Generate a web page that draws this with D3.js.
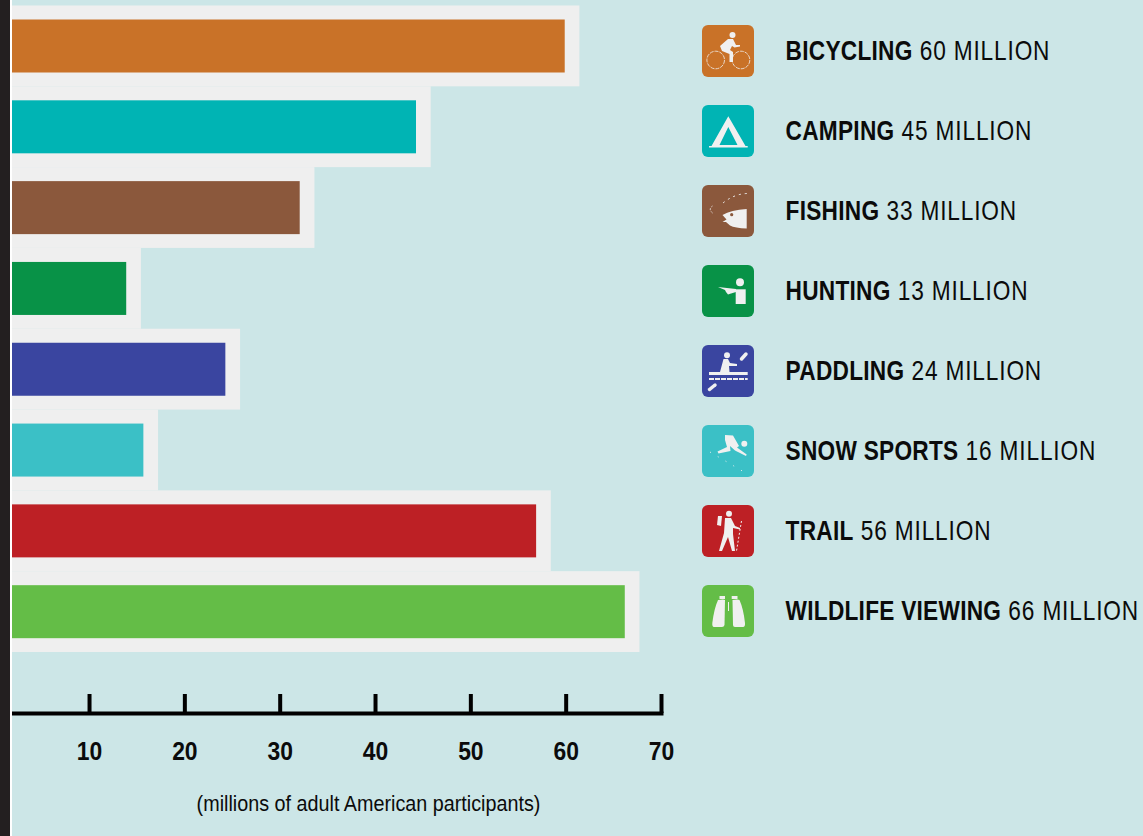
<!DOCTYPE html>
<html>
<head>
<meta charset="utf-8">
<script src="https://cdnjs.cloudflare.com/ajax/libs/d3/7.8.5/d3.min.js"></script>
<style>
html,body{margin:0;padding:0;background:#cce6e7;overflow:hidden;}
svg{display:block;}
text{font-family:"Liberation Sans",sans-serif;fill:#0b0b0b;}
.axis text{font-weight:700;font-size:26px;}
.axis path,.axis line{stroke:#000;stroke-width:4px;}
</style>
</head>
<body>
<div id="canvas"></div>
<script>
var W = 1143, H = 836;

// bar ends, legend numbers as printed
var categories = ['BICYCLING','CAMPING','FISHING','HUNTING','PADDLING','SNOW SPORTS','TRAIL','WILDLIFE VIEWING'];
var barValues = [59.9,44.3,32.1,13.9,24.3,15.7,56.9,66.2];
var labelValues = [60,45,33,13,24,16,56,66];
var colors = ['#c97228','#00b4b4','#8b583c','#089247','#3a45a0','#3bc0c6','#bd2025','#64bd47'];
var axisTicks = [10,20,30,40,50,60,70];
var axisTitle = '(millions of adult American participants)';

var svg = d3.select('#canvas').append('svg')
    .attr('width',W).attr('height',H);

svg.append('rect').attr('width',W).attr('height',H).attr('fill','#cce6e7');

var x = d3.scaleLinear().domain([0,70]).range([-6.3,661]);
var band = d3.scaleBand().domain(categories).range([5.5,652]);
var legendY = d3.scalePoint().domain(categories).range([25,585]);

var rows = categories.map(function(c,i){
    return {name:c, value:barValues[i], label:labelValues[i], color:colors[i]};
});

//halo behind each bar
svg.selectAll('.halo').data(rows).enter().append('rect')
    .attr('class','halo')
    .attr('x',x(0))
    .attr('y',function(d){return band(d.name);})
    .attr('width',function(d){return x(d.value)-x(0)+14.7;})
    .attr('height',band.bandwidth())
    .attr('fill','#efefef');

svg.selectAll('.bar').data(rows).enter().append('rect')
    .attr('class','bar')
    .attr('x',x(0))
    .attr('y',function(d){return band(d.name)+14;})
    .attr('width',function(d){return x(d.value)-x(0);})
    .attr('height',53)
    .attr('fill',function(d){return d.color;});

//axis
var axis = d3.axisBottom(x).tickValues(axisTicks).tickSize(-19).tickSizeOuter(0).tickPadding(28);
var axisG = svg.append('g').attr('class','axis')
    .attr('transform','translate(0,713)')
    .call(axis);
axisG.select('.domain').attr('stroke-linecap','square');
axisG.selectAll('text').attr('fill','#0b0b0b').attr('dy','0.72em')
    .attr('transform','scale(0.88,1)');

svg.append('text')
    .attr('transform','translate(368.5,811) scale(0.92,1)')
    .attr('text-anchor','middle')
    .style('font-size','21.5px')
    .text(axisTitle);

//left edge of the page
svg.append('rect').attr('x',0).attr('y',0).attr('width',12).attr('height',H).attr('fill','#fff');
svg.append('rect').attr('x',0).attr('y',0).attr('width',10).attr('height',H).attr('fill','#231f20');

//legend icons, drawn in a 52 box
var W_ = '#f0f0f0';
function dashedLine(g,d,w,dash){
    g.append('path').attr('d',d).attr('fill','none').attr('stroke',W_)
        .attr('stroke-width',w).attr('stroke-dasharray',dash);
}
var icons = {
    'BICYCLING':function(g){
        g.append('circle').attr('cx',30.5).attr('cy',10).attr('r',3).attr('fill',W_);
        g.append('path').attr('fill',W_).attr('d','M26,14 L31,14 L34,20 L38,20 L38,21.5 L32.5,22.5 L30,21 L28,25 L31,27 L31,37 L27.5,37 L27.5,29 L20,26 L18,21 Z');
        [[13.7,35],[39,35]].forEach(function(c){
            g.append('circle').attr('cx',c[0]).attr('cy',c[1]).attr('r',8.8)
                .attr('fill','none').attr('stroke',W_).attr('stroke-width',0.8).attr('stroke-dasharray','4 1');
        });
    },
    'CAMPING':function(g){
        g.append('path').attr('fill',W_).attr('fill-rule','evenodd').attr('d','M26.3,11.3 L43.5,41 L9.5,41 Z M26.3,22 L17.5,40 L35.5,40 Z');
        g.append('rect').attr('x',7).attr('y',41).attr('width',38.7).attr('height',1.5).attr('fill',W_);
    },
    'FISHING':function(g){
        g.append('path').attr('fill',W_).attr('d','M20.5,30 Q29,25 44.7,24 L44.7,43.5 Q33,43 28,40.5 L24,37 L20.5,37 L24.5,34.5 Z');
        g.append('circle').attr('cx',29.7).attr('cy',29.7).attr('r',1.6).attr('fill',colors[2]);
        dashedLine(g,'M10.5,28 Q6,24 10.5,21',0.8,'2 1.5');
        dashedLine(g,'M21,18 Q32,9 45,8.5',1,'2 4');
    },
    'HUNTING':function(g){
        g.append('circle').attr('cx',38).attr('cy',17.3).attr('r',4).attr('fill',W_);
        g.append('rect').attr('x',33.7).attr('y',24.3).attr('width',10).attr('height',14.7).attr('fill',W_);
        g.append('path').attr('fill',W_).attr('d','M16,22 L34,24 L34,27 L29,28.5 L26,29.5 L24,27 L23,25 Z');
    },
    'PADDLING':function(g){
        g.append('circle').attr('cx',25).attr('cy',10.3).attr('r',3).attr('fill',W_);
        g.append('path').attr('fill',W_).attr('d','M21.5,14 L26,14 L28,18 L35,19 L35,21 L27,21 L27.5,27 L18,27 Z');
        g.append('rect').attr('x',7).attr('y',27).attr('width',38.7).attr('height',3).attr('fill',W_);
        dashedLine(g,'M7,34 L45.7,34',2,'5 1');
        g.append('path').attr('d','M39.5,14 L44,9').attr('stroke',W_).attr('stroke-width',3.5).attr('stroke-linecap','round');
        g.append('path').attr('d','M7.5,44.5 L13,40').attr('stroke',W_).attr('stroke-width',3.5).attr('stroke-linecap','round');
    },
    'SNOW SPORTS':function(g){
        g.append('circle').attr('cx',42.3).attr('cy',18.7).attr('r',3).attr('fill',W_);
        g.append('path').attr('fill',W_).attr('d','M23,10 L31,10.5 L37,21 L35,22.5 L44.7,29.5 L44,31 L33,25.5 L28,21 L28.5,26 L16.5,28.5 L15.5,26.5 L25,22 L23,15 Z');
        dashedLine(g,'M8,27 L20,34 L42,47',1,'1 8');
    },
    'TRAIL':function(g){
        g.append('circle').attr('cx',27).attr('cy',8.7).attr('r',3).attr('fill',W_);
        g.append('path').attr('fill',W_).attr('d','M16,11 L20,11 L19,21 L15,20 Z');
        g.append('path').attr('fill',W_).attr('d','M23,13 L29,13 L33,21 L38,23 L38,24.5 L31,23 L31,29 L33,46 L30,46 L26,32 L20,46 L17,46 L22,28 Z');
        dashedLine(g,'M39.5,16 L34.5,46',1,'2 2');
    },
    'WILDLIFE VIEWING':function(g){
        g.append('path').attr('fill',W_).attr('d','M17.5,11 L23,11 L23,14 L17.5,14 Z M29.7,11 L35.5,11 L35.5,14 L29.7,14 Z');
        g.append('path').attr('fill',W_).attr('d','M16,15 Q22,14 23,15 L22.5,40 Q22,42 20,42 L12,42 Q10,42 10.3,38 Q12,24 16,15 Z');
        g.append('path').attr('fill',W_).attr('d','M30.5,15 Q36,14 37.5,15 Q41.5,24 43,38 Q43.3,42 41,42 L33,42 Q31,42 31,40 Z');
        g.append('rect').attr('x',26).attr('y',17).attr('width',1).attr('height',9).attr('fill',W_);
    }
};

var legend = svg.selectAll('.legend').data(rows).enter().append('g')
    .attr('class','legend')
    .attr('transform',function(d){return 'translate(702,'+legendY(d.name)+')';});

legend.append('rect').attr('width',52).attr('height',52).attr('rx',6)
    .attr('fill',function(d){return d.color;});

legend.each(function(d){ icons[d.name](d3.select(this)); });

//no narrow face installed, so squeeze the labels sideways
var labels = legend.append('text')
    .attr('transform','translate(83.6,35) scale(0.84,1)')
    .style('font-size','27px');
labels.append('tspan').style('font-weight',700).style('letter-spacing','0.3px').text(function(d){return d.name;});
labels.append('tspan').style('letter-spacing','1px').text(function(d){return ' '+d.label+' MILLION';});
</script>
</body>
</html>
